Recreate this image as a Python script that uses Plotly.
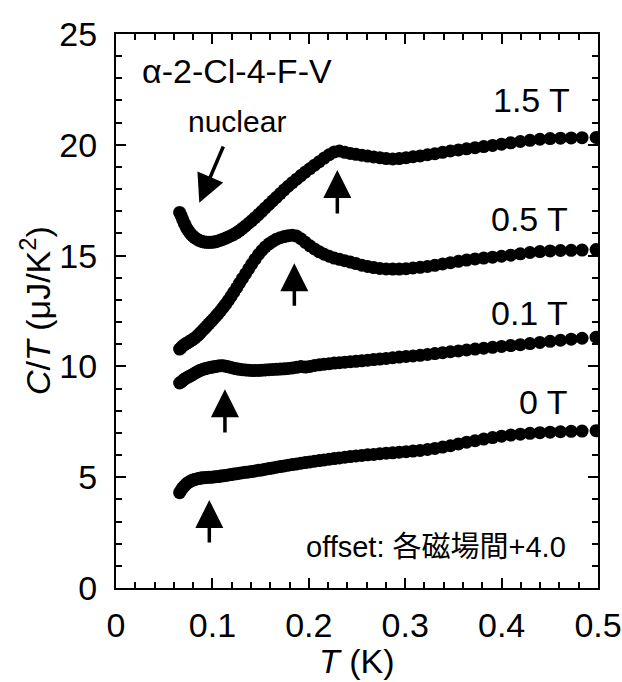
import plotly.graph_objects as go

# Temperature (K), shared by all field series
T_K = [0.0660, 0.0676, 0.0692, 0.0709, 0.0726, 0.0743, 0.0761, 0.0779, 0.0798, 0.0817,
       0.0837, 0.0857, 0.0877, 0.0898, 0.0920, 0.0942, 0.0964, 0.0988, 0.1011, 0.1035,
       0.1060, 0.1086, 0.1112, 0.1138, 0.1166, 0.1194, 0.1222, 0.1252, 0.1282, 0.1312,
       0.1344, 0.1376, 0.1409, 0.1443, 0.1478, 0.1513, 0.1549, 0.1587, 0.1625, 0.1664,
       0.1704, 0.1745, 0.1786, 0.1829, 0.1873, 0.1918, 0.1964, 0.2011, 0.2059, 0.2109,
       0.2159, 0.2211, 0.2264, 0.2318, 0.2374, 0.2431, 0.2489, 0.2549, 0.2610, 0.2673,
       0.2737, 0.2802, 0.2870, 0.2938, 0.3009, 0.3081, 0.3155, 0.3231, 0.3308, 0.3388,
       0.3469, 0.3552, 0.3637, 0.3725, 0.3814, 0.3906, 0.3999, 0.4095, 0.4194, 0.4294,
       0.4397, 0.4503, 0.4611, 0.4722, 0.4835, 0.4980]

# C/T (uJ/K^2), already offset by +4.0 per field step
CT_0T = [4.30, 4.42, 4.52, 4.60, 4.68, 4.74, 4.79, 4.84, 4.87, 4.90,
         4.92, 4.94, 4.96, 4.97, 4.98, 4.99, 5.00, 5.00, 5.01, 5.02,
         5.03, 5.05, 5.06, 5.08, 5.10, 5.12, 5.14, 5.16, 5.18, 5.20,
         5.22, 5.24, 5.26, 5.28, 5.31, 5.33, 5.36, 5.39, 5.42, 5.45,
         5.48, 5.51, 5.54, 5.57, 5.60, 5.63, 5.66, 5.69, 5.72, 5.75,
         5.78, 5.81, 5.84, 5.87, 5.90, 5.93, 5.96, 5.98, 6.01, 6.03,
         6.06, 6.08, 6.10, 6.13, 6.15, 6.18, 6.21, 6.25, 6.30, 6.36,
         6.42, 6.50, 6.58, 6.65, 6.72, 6.79, 6.85, 6.90, 6.94, 6.98,
         7.01, 7.03, 7.05, 7.07, 7.08, 7.10]

CT_01T = [9.25, 9.30, 9.36, 9.42, 9.47, 9.51, 9.55, 9.59, 9.64, 9.69,
          9.74, 9.79, 9.83, 9.86, 9.89, 9.92, 9.94, 9.96, 9.98, 10.00,
          10.02, 10.03, 10.03, 10.01, 9.98, 9.95, 9.92, 9.89, 9.87, 9.85,
          9.84, 9.83, 9.82, 9.82, 9.82, 9.83, 9.84, 9.85, 9.86, 9.87,
          9.88, 9.89, 9.91, 9.93, 9.96, 9.99, 9.97, 10.00, 10.04, 10.07,
          10.10, 10.12, 10.15, 10.17, 10.19, 10.21, 10.23, 10.25, 10.28, 10.31,
          10.33, 10.36, 10.39, 10.42, 10.45, 10.47, 10.50, 10.54, 10.58, 10.62,
          10.66, 10.70, 10.74, 10.78, 10.82, 10.86, 10.90, 10.94, 10.98, 11.03,
          11.08, 11.13, 11.18, 11.23, 11.27, 11.32]

CT_05T = [10.78, 10.85, 10.92, 10.98, 11.03, 11.07, 11.12, 11.17, 11.22, 11.28,
          11.35, 11.43, 11.52, 11.62, 11.72, 11.82, 11.92, 12.03, 12.14, 12.26,
          12.38, 12.52, 12.66, 12.81, 12.98, 13.16, 13.35, 13.55, 13.76, 13.97,
          14.18, 14.40, 14.62, 14.84, 15.05, 15.23, 15.39, 15.53, 15.64, 15.74,
          15.81, 15.86, 15.90, 15.92, 15.88, 15.76, 15.60, 15.44, 15.30, 15.17,
          15.06, 14.97, 14.89, 14.83, 14.77, 14.71, 14.64, 14.57, 14.51, 14.46,
          14.42, 14.40, 14.39, 14.39, 14.41, 14.44, 14.47, 14.51, 14.56, 14.62,
          14.68, 14.74, 14.80, 14.85, 14.89, 14.93, 14.97, 15.02, 15.08, 15.14,
          15.18, 15.21, 15.23, 15.24, 15.25, 15.27]

CT_15T = [16.95, 16.80, 16.62, 16.45, 16.30, 16.17, 16.06, 15.96, 15.88, 15.81,
          15.75, 15.70, 15.66, 15.63, 15.61, 15.60, 15.60, 15.60, 15.61, 15.63,
          15.66, 15.70, 15.74, 15.79, 15.84, 15.90, 15.96, 16.04, 16.13, 16.23,
          16.34, 16.46, 16.58, 16.71, 16.85, 17.00, 17.15, 17.31, 17.47, 17.63,
          17.80, 17.97, 18.13, 18.29, 18.45, 18.61, 18.77, 18.92, 19.08, 19.24,
          19.40, 19.55, 19.68, 19.72, 19.66, 19.61, 19.57, 19.53, 19.49, 19.45,
          19.42, 19.38, 19.36, 19.38, 19.42, 19.46, 19.50, 19.55, 19.60, 19.66,
          19.72, 19.77, 19.82, 19.87, 19.92, 19.97, 20.03, 20.09, 20.15, 20.20,
          20.25, 20.28, 20.30, 20.31, 20.32, 20.33]

series = [("0 T", CT_0T), ("0.1 T", CT_01T), ("0.5 T", CT_05T), ("1.5 T", CT_15T)]

# field labels: (text, T, C/T)
field_labels = [("1.5 T", 0.473, 22.0), ("0.5 T", 0.471, 16.63),
                ("0.1 T", 0.471, 12.4), ("0 T", 0.471, 8.41)]

# transition arrows: (tip T, tip C/T, tail C/T)
transition_arrows = [(0.2296, 18.86, 16.83), (0.185, 14.65, 12.67),
                     (0.113, 8.97, 6.95), (0.0968, 3.97, 1.99)]

FONT = "Liberation Sans, Arial, Noto Sans CJK JP, sans-serif"

fig = go.Figure()
for name, vals in series:
    fig.add_trace(go.Scatter(x=T_K, y=vals, mode="markers", name=name,
                             marker=dict(color="black", size=13, line=dict(width=0)),
                             showlegend=False))

ann = []
for txt, x, y in field_labels:
    ann.append(dict(x=x, y=y, xref="x", yref="y", text=txt, showarrow=False,
                    xanchor="right", yanchor="middle", font=dict(size=34, color="black")))
ann.append(dict(x=0.0249, y=23.34, xref="x", yref="y", text="α-2-Cl-4-F-V", showarrow=False,
                xanchor="left", yanchor="middle", font=dict(size=34, color="black")))
ann.append(dict(x=0.126, y=21.07, xref="x", yref="y", text="nuclear", showarrow=False,
                xanchor="center", yanchor="middle", font=dict(size=30, color="black")))
ann.append(dict(x=0.469, y=1.83, xref="x", yref="y", text="offset: 各磁場間+4.0", showarrow=False,
                xanchor="right", yanchor="middle", font=dict(size=29, color="black")))
# axis titles
ann.append(dict(x=0.5, y=-0.131, xref="paper", yref="paper", text="<i>T</i> (K)", showarrow=False,
                xanchor="center", yanchor="middle", font=dict(size=34, color="black")))
ann.append(dict(x=-0.168, y=0.5, xref="paper", yref="paper",
                text="<i>C</i>/<i>T</i> (μJ/K<sup>2</sup>)", showarrow=False, textangle=-90,
                xanchor="center", yanchor="middle", font=dict(size=34, color="black")))
# nuclear arrow
ann.append(dict(x=0.0864, y=17.39, ax=0.112, ay=19.99, xref="x", yref="y", axref="x", ayref="y",
                text="", showarrow=True, arrowhead=2, arrowsize=1.6, arrowwidth=3.5,
                arrowcolor="black", standoff=0, startstandoff=0))
for tx, ty, tail in transition_arrows:
    ann.append(dict(x=tx, y=ty, ax=tx, ay=tail, xref="x", yref="y", axref="x", ayref="y",
                    text="", showarrow=True, arrowhead=2, arrowsize=1.6, arrowwidth=3.5,
                    arrowcolor="black", standoff=0, startstandoff=0))

axis_common = dict(showline=True, linewidth=2, linecolor="black", mirror="ticks",
                   ticks="inside", ticklen=10, tickwidth=2, tickcolor="black",
                   showgrid=False, zeroline=False, automargin=False,
                   tickfont=dict(size=34, color="black"))

fig.update_xaxes(range=[0, 0.5], dtick=0.1, tick0=0,
                 minor=dict(ticks="inside", ticklen=6, tickwidth=2, dtick=0.02, tickcolor="black"),
                 ticklabelstandoff=6, **axis_common)
fig.update_yaxes(range=[0, 25], dtick=5, tick0=0,
                 minor=dict(ticks="inside", ticklen=6, tickwidth=2, dtick=1, tickcolor="black"),
                 ticklabelstandoff=10, **axis_common)

fig.update_layout(width=622, height=682, margin=dict(l=116, r=24, t=34, b=94),
                  paper_bgcolor="white", plot_bgcolor="white",
                  font=dict(family=FONT, color="black"), annotations=ann)

fig.write_html("out.html", config={"displayModeBar": False},
               post_script="document.body.style.margin='0';document.body.style.padding='0';")
